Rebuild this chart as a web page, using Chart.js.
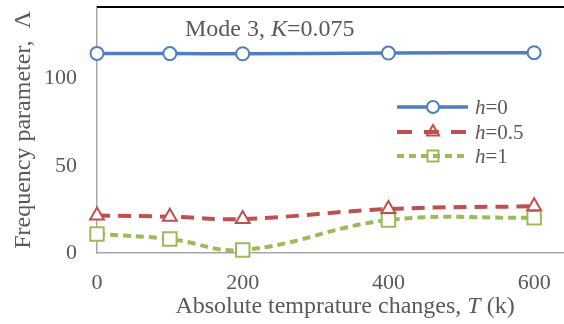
<!DOCTYPE html>
<html>
<head>
<meta charset="utf-8">
<script src="https://cdn.jsdelivr.net/npm/chart.js@4.4.1/dist/chart.umd.min.js"></script>
<style>
  html, body { margin: 0; padding: 0; background: #fff; overflow: hidden; }
  canvas { display: block; }
</style>
</head>
<body>
<canvas id="chart" width="564" height="324"></canvas>
<script>
// ── Données ──
const temperatures = [0, 100, 200, 400, 600];
const lambdaH0 = [114.4, 114.3, 114.2, 114.6, 114.8];
const lambdaH05 = [21.5, 20.8, 19.5, 25.2, 26.8];
const lambdaH1 = [10.9, 8.0, 1.7, 18.9, 20.2];
const seriesLabels = ['0', '0.5', '1'];
const xTickValues = [0, 200, 400, 600];
const yTickValues = [0, 50, 100];

const FONT = '"Liberation Serif", "Times New Roman", serif';
const TEXT = '#595959';
const COLORS = ['#4F7EBE', '#C0504D', '#9BBB59'];
const DASHES = [[], [13, 8], [8, 5]];
const LEGEND_DASHES = [[], [15, 12], [7, 5]];
const MARKERS = ['circle', 'triangle', 'rect'];

function toPoints(values) {
  return temperatures.map((t, i) => ({ x: t, y: values[i] }));
}

// texte avec parties en italique
function drawRich(ctx, parts, x, y, size, align) {
  let total = 0;
  parts.forEach(p => {
    ctx.font = (p[1] ? 'italic ' : '') + size + 'px ' + FONT;
    total += ctx.measureText(p[0]).width;
  });
  let cx = align === 'center' ? x - total / 2 : x;
  ctx.textAlign = 'left';
  parts.forEach(p => {
    ctx.font = (p[1] ? 'italic ' : '') + size + 'px ' + FONT;
    ctx.fillText(p[0], cx, y);
    cx += ctx.measureText(p[0]).width;
  });
}

function drawMarker(ctx, style, x, y, color) {
  ctx.save();
  ctx.strokeStyle = color;
  ctx.lineWidth = 2;
  ctx.setLineDash([]);
  ctx.beginPath();
  if (style === 'circle') {
    ctx.arc(x, y, 6, 0, Math.PI * 2);
    ctx.fillStyle = '#fff';
    ctx.fill();
  } else if (style === 'triangle') {
    const r = 7;
    ctx.moveTo(x, y - r);
    ctx.lineTo(x + r * 0.87, y + r * 0.5);
    ctx.lineTo(x - r * 0.87, y + r * 0.5);
    ctx.closePath();
  } else {
    ctx.rect(x - 5.5, y - 5.5, 11, 11);
  }
  ctx.stroke();
  ctx.restore();
}

const decorPlugin = {
  id: 'decor',
  beforeDatasetsDraw(chart) {
    const { ctx, chartArea } = chart;
    ctx.save();
    ctx.strokeStyle = '#000';
    ctx.lineWidth = 2;
    ctx.beginPath();
    ctx.moveTo(chartArea.left, chartArea.top);
    ctx.lineTo(chart.width, chartArea.top);
    ctx.stroke();
    ctx.restore();
  },
  afterDatasetsDraw(chart) {
    const { ctx, chartArea } = chart;
    ctx.save();
    ctx.fillStyle = TEXT;
    ctx.textBaseline = 'alphabetic';

    // titre dans la zone
    drawRich(ctx, [['Mode 3, ', false], ['K', true], ['=0.075', false]], 185, 36, 24, 'left');

    // titre axe x
    drawRich(ctx, [['Absolute temprature changes, ', false], ['T', true], [' (k)', false]], 345, 313, 24, 'center');

    // titre axe y
    ctx.save();
    ctx.translate(30, (chartArea.top + chartArea.bottom) / 2);
    ctx.rotate(-Math.PI / 2);
    drawRich(ctx, [['Frequency parameter,  \u039B', false]], 0, 0, 24, 'center');
    ctx.restore();

    // légende
    const rows = [107, 132, 156];
    seriesLabels.forEach((lab, i) => {
      const y = rows[i];
      ctx.save();
      ctx.strokeStyle = COLORS[i];
      ctx.lineWidth = i === 0 ? 3.5 : 4;
      ctx.setLineDash(LEGEND_DASHES[i]);
      ctx.beginPath();
      ctx.moveTo(397, y);
      ctx.lineTo(468, y);
      ctx.stroke();
      ctx.restore();
      drawMarker(ctx, MARKERS[i], 433, y, COLORS[i]);
      ctx.fillStyle = TEXT;
      drawRich(ctx, [['h', true], ['=' + lab, false]], 475, y + 7, 21, 'left');
    });
    ctx.restore();
  }
};

const datasets = [lambdaH0, lambdaH05, lambdaH1].map((vals, i) => ({
  label: 'h=' + seriesLabels[i],
  data: toPoints(vals),
  borderColor: COLORS[i],
  borderWidth: i === 0 ? 3.5 : 4,
  borderDash: DASHES[i],
  tension: 0.4,
  pointStyle: MARKERS[i],
  pointRadius: i === 2 ? 9.5 : (i === 1 ? 8 : 6.5),
  pointBorderColor: COLORS[i],
  pointBackgroundColor: '#fff',
  pointBorderWidth: 2,
  clip: false,
  fill: false,
}));

new Chart(document.getElementById('chart'), {
  type: 'line',
  data: { datasets },
  options: {
    responsive: false,
    animation: false,
    devicePixelRatio: 1,
    layout: { autoPadding: false, padding: { top: 7, right: 0, left: 0, bottom: 0 } },
    plugins: { legend: { display: false }, tooltip: { enabled: false } },
    scales: {
      x: {
        type: 'linear',
        min: 0,
        max: 641,
        afterBuildTicks: s => { s.ticks = xTickValues.map(v => ({ value: v })); },
        afterFit: s => { s.height = 71; s.paddingLeft = 0; s.paddingRight = 0; },
        grid: { display: false, drawTicks: false },
        border: { color: '#A6A6A6', width: 1.5 },
        ticks: { color: TEXT, font: { family: FONT, size: 22 }, padding: 17, maxRotation: 0 },
      },
      y: {
        min: 0,
        max: 141,
        afterBuildTicks: s => { s.ticks = yTickValues.map(v => ({ value: v })); },
        afterFit: s => { s.width = 97; s.paddingTop = 0; s.paddingBottom = 0; },
        grid: { display: false, drawTicks: false },
        border: { color: '#A6A6A6', width: 1.5 },
        ticks: { color: TEXT, font: { family: FONT, size: 22 }, padding: 20 },
      },
    },
  },
  plugins: [decorPlugin],
});
</script>
</body>
</html>
